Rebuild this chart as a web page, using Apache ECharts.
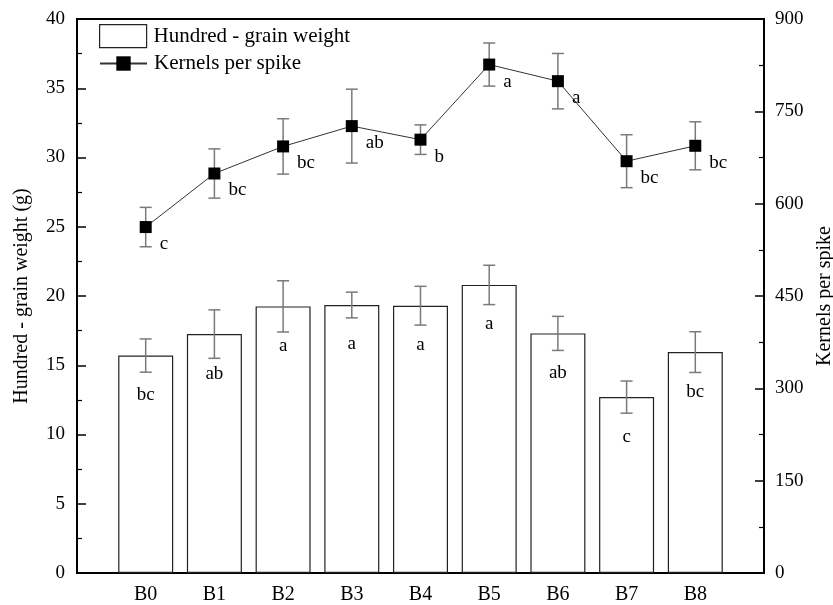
<!DOCTYPE html>
<html>
<head>
<meta charset="utf-8">
<script src="https://cdn.jsdelivr.net/npm/echarts@6/dist/echarts.min.js"></script>
<style>
html,body{margin:0;padding:0;background:#fff;overflow:hidden;}
#chart{width:833px;height:605px;}
</style>
</head>
<body>
<div id="chart"></div>
<script>
const categories = ['B0','B1','B2','B3','B4','B5','B6','B7','B8'];
const grainWeight = [15.7, 17.25, 19.25, 19.35, 19.3, 20.8, 17.3, 12.7, 15.95];
const grainWeightErr = [1.2, 1.75, 1.85, 0.93, 1.4, 1.42, 1.23, 1.16, 1.47];
const grainLetters = ['bc','ab','a','a','a','a','ab','c','bc'];
const kernels = [562, 649, 693, 726, 704, 826, 799, 669, 694];
const kernelsErr = [32, 40, 45, 60, 24, 35, 45, 43, 39];
const kernelLetters = ['c','bc','bc','ab','b','a','a','bc','bc'];
const leftTicks = {min: 0, max: 40, interval: 5};
const rightTicks = {min: 0, max: 900, interval: 150};

const FONT = 'Liberation Serif';
const paddedCats = [''].concat(categories, ['']);

const barData = grainWeight.map((v, i) => [i + 1, v]);
const lineData = kernels.map((v, i) => [i + 1, v]);
const barErrData = grainWeight.map((v, i) => [i + 1, v - grainWeightErr[i], v + grainWeightErr[i]]);
const lineErrData = kernels.map((v, i) => [i + 1, v - kernelsErr[i], v + kernelsErr[i]]);

function errRender(params, api) {
  const x = api.value(0);
  const lo = api.coord([x, api.value(1)]);
  const hi = api.coord([x, api.value(2)]);
  const hw = 6;
  const style = {stroke: '#7a7a7a', lineWidth: 1.5, fill: null};
  return {
    type: 'group',
    children: [
      {type: 'line', shape: {x1: hi[0], y1: hi[1], x2: lo[0], y2: lo[1]}, style: style},
      {type: 'line', shape: {x1: hi[0] - hw, y1: hi[1], x2: hi[0] + hw, y2: hi[1]}, style: style},
      {type: 'line', shape: {x1: lo[0] - hw, y1: lo[1], x2: lo[0] + hw, y2: lo[1]}, style: style}
    ]
  };
}

const el = document.getElementById('chart');
const chart = echarts.init(el, null, {renderer: 'canvas', width: 833, height: 605});
chart.setOption({
  backgroundColor: '#fff',
  animation: false,
  textStyle: {fontFamily: FONT, color: '#000'},
  grid: {left: 77, right: 69, top: 19, bottom: 32, containLabel: false, outerBoundsMode: 'none', show: true, borderColor: '#000', borderWidth: 2, backgroundColor: 'transparent'},
  legend: [
    {
      data: ['Hundred - grain weight'],
      left: 99, top: 24, orient: 'vertical', padding: 0,
      itemWidth: 47, itemHeight: 23, itemGap: 0,
      icon: 'rect',
      itemStyle: {color: '#fff', borderColor: '#222', borderWidth: 1.2},
      textStyle: {fontFamily: FONT, fontSize: 21, color: '#000', padding: [0,0,0,2]}
    },
    {
      data: ['Kernels per spike'],
      left: 99, top: 53, orient: 'vertical', padding: 0,
      itemWidth: 47, itemHeight: 18, itemGap: 0,
      textStyle: {fontFamily: FONT, fontSize: 21, color: '#000', padding: [0,0,0,2]}
    }
  ],
  xAxis: {
    type: 'category',
    data: paddedCats,
    boundaryGap: false,
    axisLine: {lineStyle: {color: '#000', width: 2}},
    axisTick: {show: false},
    axisLabel: {interval: 0, fontFamily: FONT, fontSize: 20, color: '#000', margin: 12},
    splitLine: {show: false}
  },
  yAxis: [
    {
      type: 'value',
      min: leftTicks.min, max: leftTicks.max, interval: leftTicks.interval,
      name: 'Hundred - grain weight (g)',
      nameLocation: 'middle', nameRotate: 90, nameGap: 45,
      nameTextStyle: {fontFamily: FONT, fontSize: 20, color: '#000'},
      axisLine: {show: true, lineStyle: {color: '#000', width: 2}},
      axisTick: {show: true, inside: true, length: 9, lineStyle: {color: '#000', width: 1.5}},
      minorTick: {show: true, splitNumber: 2, length: 5, lineStyle: {color: '#000', width: 1.2}},
      axisLabel: {fontFamily: FONT, fontSize: 19, color: '#000', margin: 12},
      splitLine: {show: false}
    },
    {
      type: 'value',
      position: 'right',
      min: rightTicks.min, max: rightTicks.max, interval: rightTicks.interval,
      name: 'Kernels per spike',
      nameLocation: 'middle', nameRotate: 90, nameGap: 48,
      nameTextStyle: {fontFamily: FONT, fontSize: 20, color: '#000'},
      axisLine: {show: true, lineStyle: {color: '#000', width: 2}},
      axisTick: {show: true, inside: true, length: 9, lineStyle: {color: '#000', width: 1.5}},
      minorTick: {show: true, splitNumber: 2, length: 5, lineStyle: {color: '#000', width: 1.2}},
      axisLabel: {fontFamily: FONT, fontSize: 19, color: '#000', margin: 11},
      splitLine: {show: false}
    }
  ],
  series: [
    {
      name: 'Hundred - grain weight',
      type: 'bar',
      yAxisIndex: 0,
      data: barData,
      barWidth: 55,
      itemStyle: {color: '#fff', borderColor: '#222', borderWidth: 1.2},
      label: {
        show: true, position: 'insideTop', distance: 30,
        fontFamily: FONT, fontSize: 19, color: '#000',
        formatter: p => grainLetters[p.dataIndex]
      },
      z: 2
    },
    {
      type: 'custom',
      yAxisIndex: 0,
      data: barErrData,
      renderItem: errRender,
      z: 3,
      silent: true
    },
    {
      type: 'custom',
      yAxisIndex: 1,
      data: lineErrData,
      renderItem: errRender,
      z: 3,
      silent: true
    },
    {
      name: 'Kernels per spike',
      type: 'line',
      yAxisIndex: 1,
      data: lineData,
      symbol: 'rect',
      symbolSize: 12,
      lineStyle: {color: '#333', width: 1},
      itemStyle: {color: '#000'},
      label: {
        show: true, position: 'right', distance: 8, offset: [0, 17],
        fontFamily: FONT, fontSize: 19, color: '#000',
        formatter: p => kernelLetters[p.dataIndex]
      },
      z: 4
    }
  ]
});
</script>
</body>
</html>
